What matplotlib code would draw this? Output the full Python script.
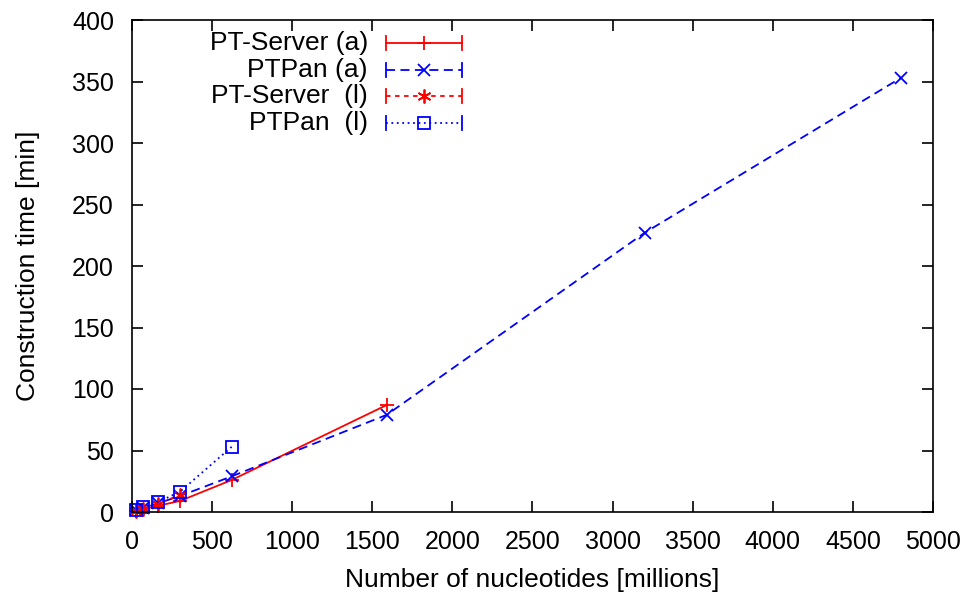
import matplotlib
matplotlib.use('Agg')
import matplotlib.pyplot as plt

plt.rcParams['font.family'] = ['Liberation Sans', 'DejaVu Sans']

# dataset sizes in millions of nucleotides, times in minutes
x_server_a = [28, 66, 160, 300, 622, 1590]
y_server_a = [1, 2, 5, 9, 26, 87]

x_ptpan_a = [28, 66, 160, 300, 622, 1590, 3200, 4800]
y_ptpan_a = [1.5, 3, 7, 13, 29, 79, 227, 353]

x_server_l = [28, 66, 160, 300]
y_server_l = [1, 2.5, 6.5, 14]

x_ptpan_l = [28, 66, 160, 300, 622]
y_ptpan_l = [2, 4, 8, 16.5, 53]

labels = ['PT-Server (a)', 'PTPan (a)', 'PT-Server  (l)', 'PTPan  (l)']

fig = plt.figure(figsize=(9.7, 5.95), dpi=100)
# axes box in pixels: x 132..933, y 20..512
left, right, top, bottom = 132, 933, 20, 512
ax = fig.add_axes([left / 970, (595 - bottom) / 595,
                   (right - left) / 970, (bottom - top) / 595])

styles = [
    dict(color='#ff0000', linestyle='-', marker='+', ms=10, mew=1.3),
    dict(color='#0000ff', linestyle=(0, (5, 3)), marker='x', ms=9, mew=1.3),
    dict(color='#ff0000', linestyle=(0, (2.5, 2.5)), marker=(6, 2, 0), ms=10, mew=1.3),
    dict(color='#0000ff', linestyle=(0, (1, 2)), marker='s', ms=8, mew=1.3, mfc='none'),
]
series = [(x_server_a, y_server_a), (x_ptpan_a, y_ptpan_a),
          (x_server_l, y_server_l), (x_ptpan_l, y_ptpan_l)]

for (xs, ys), st in zip(series, styles):
    ax.plot(xs, ys, lw=1.3, clip_on=False, **st)

ax.set_xlim(0, 5000)
ax.set_ylim(0, 400)
ax.set_xticks(range(0, 5001, 500))
ax.set_yticks(range(0, 401, 50))
ax.tick_params(direction='in', top=True, right=True, length=8, width=1.2,
               labelsize=18, pad=13)
for sp in ax.spines.values():
    sp.set_linewidth(1.2)

ax.set_xlabel('Number of nucleotides [millions]', fontsize=19, labelpad=10)
ax.set_ylabel('Construction time [min]', fontsize=19, labelpad=23)

# key drawn in gnuplot style: right-aligned text, sample with end caps
ax_w, ax_h = float(right - left), float(bottom - top)
rows = [43, 70, 96, 123]
tx = (368 - left) / ax_w
x0 = (386 - left) / ax_w
x1 = (462 - left) / ax_w
xm = (424 - left) / ax_w
for lab, st, py in zip(labels, styles, rows):
    yy = (bottom - py) / ax_h
    ax.text(tx, yy, lab, transform=ax.transAxes, ha='right', va='center',
            fontsize=19)
    ax.plot([x0, x1], [yy, yy], transform=ax.transAxes, color=st['color'],
            linestyle=st['linestyle'], lw=1.3, clip_on=False)
    ax.plot([xm], [yy], transform=ax.transAxes, color=st['color'],
            marker=st['marker'], ms=st['ms'], mew=st['mew'],
            mfc=st.get('mfc', st['color']), clip_on=False)
    cap = 7 / ax_h
    for cx in (x0, x1):
        ax.plot([cx, cx], [yy - cap, yy + cap], transform=ax.transAxes,
                color=st['color'], lw=1.3, clip_on=False)

fig.savefig('out.png', dpi=100)
